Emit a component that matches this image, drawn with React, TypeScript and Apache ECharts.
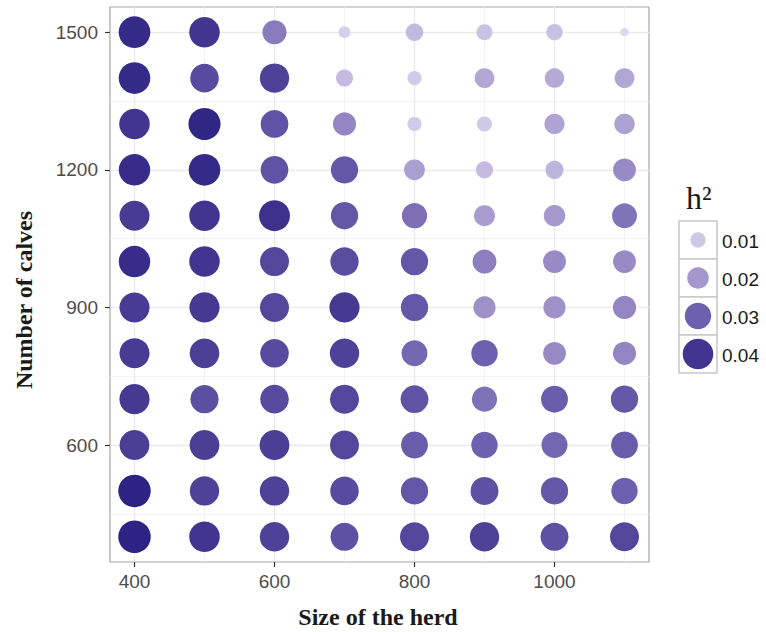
import React, { useEffect, useRef } from "react";
import * as echarts from "echarts";

// ---- data ----
const herdSizes = [400, 500, 600, 700, 800, 900, 1000, 1100];
const calves = [1500, 1400, 1300, 1200, 1100, 1000, 900, 800, 700, 600, 500, 400];
// h2 values, one row per number of calves (top to bottom), one column per herd size
const h2Rows = [
  [0.043, 0.040, 0.025, 0.006, 0.013, 0.011, 0.0115, 0.003],
  [0.043, 0.035, 0.037, 0.0125, 0.0085, 0.0168, 0.0162, 0.0168],
  [0.040, 0.044, 0.033, 0.023, 0.0085, 0.0097, 0.0174, 0.018],
  [0.0424, 0.043, 0.033, 0.032, 0.0186, 0.0125, 0.014, 0.0223],
  [0.0387, 0.040, 0.041, 0.032, 0.0273, 0.019, 0.0198, 0.0265],
  [0.0424, 0.040, 0.036, 0.0345, 0.032, 0.0244, 0.0223, 0.0223],
  [0.0387, 0.039, 0.036, 0.039, 0.032, 0.0212, 0.0212, 0.023],
  [0.0387, 0.0377, 0.035, 0.037, 0.0286, 0.030, 0.0223, 0.023],
  [0.039, 0.034, 0.035, 0.036, 0.033, 0.027, 0.031, 0.032],
  [0.038, 0.038, 0.038, 0.036, 0.031, 0.030, 0.029, 0.031],
  [0.045, 0.037, 0.037, 0.035, 0.032, 0.0335, 0.032, 0.030],
  [0.045, 0.040, 0.037, 0.0335, 0.036, 0.037, 0.0335, 0.036],
];
const xTicks = [400, 600, 800, 1000];
const yTicks = [600, 900, 1200, 1500];
const xMinor = [500, 700, 900, 1100];
const yMinor = [450, 750, 1050, 1350];
const legendValues = [0.01, 0.02, 0.03, 0.04];
const legendLabels = ["0.01", "0.02", "0.03", "0.04"];

// ---- scales ----
const colorStops: [number, number[]][] = [
  [0.003, [0xdc, 0xd8, 0xee]],
  [0.01, [0xcd, 0xc8, 0xe6]],
  [0.02, [0xa3, 0x98, 0xcc]],
  [0.03, [0x6d, 0x60, 0xae]],
  [0.04, [0x41, 0x35, 0x8f]],
  [0.045, [0x2c, 0x23, 0x82]],
];
function rgb(c: number[]) {
  return `rgb(${c.map((x) => Math.round(x)).join(",")})`;
}
function colorFor(v: number): string {
  if (v <= colorStops[0][0]) return rgb(colorStops[0][1]);
  for (let i = 1; i < colorStops.length; i++) {
    const [v1, c1] = colorStops[i];
    if (v <= v1) {
      const [v0, c0] = colorStops[i - 1];
      const t = (v - v0) / (v1 - v0);
      return rgb(c0.map((c, k) => c + (c1[k] - c) * t));
    }
  }
  return rgb(colorStops[colorStops.length - 1][1]);
}
function sizeFor(v: number): number {
  return 153 * Math.sqrt(v);
}

const GRID = { left: 110, right: 117, top: 7, bottom: 70 };

export default function App() {
  const ref = useRef<HTMLDivElement>(null);
  useEffect(() => {
    if (!ref.current) return;
    const chart = echarts.init(ref.current, undefined, { renderer: "svg" });
    const points: number[][] = [];
    calves.forEach((y, r) => {
      herdSizes.forEach((x, c) => {
        points.push([x, y, h2Rows[r][c]]);
      });
    });

    // legend graphics
    const boxX = 679;
    const boxW = 38;
    const boxTop = 221;
    const boxH = 38;
    const legendEls: any[] = [];
    legendEls.push({
      type: "text",
      x: 686,
      y: 182,
      style: {
        text: "h²",
        font: "32px 'Liberation Serif', 'Times New Roman', serif",
        fill: "#1a1a1a",
      },
    });
    legendValues.forEach((v, i) => {
      const top = boxTop + i * boxH;
      legendEls.push({
        type: "rect",
        shape: { x: boxX, y: top, width: boxW, height: boxH },
        style: { fill: "#ffffff", stroke: "#c8c8c8", lineWidth: 1.5 },
      });
      legendEls.push({
        type: "circle",
        shape: { cx: boxX + boxW / 2, cy: top + boxH / 2, r: sizeFor(v) / 2 },
        style: { fill: colorFor(v) },
      });
      legendEls.push({
        type: "text",
        x: boxX + boxW + 5,
        y: top + boxH / 2 + 1,
        style: {
          text: legendLabels[i],
          font: "19px 'Liberation Sans', Arial, sans-serif",
          fill: "#1a1a1a",
          verticalAlign: "middle",
          textAlign: "left",
        },
      });
    });

    const gridLine = (vals: number[], axis: "xAxis" | "yAxis") =>
      vals.map((v) => ({ [axis]: v }));

    const option: any = {
      animation: false,
      backgroundColor: "#ffffff",
      grid: {
        ...GRID,
        show: true,
        borderColor: "#a6a6a6",
        borderWidth: 1.2,
        backgroundColor: "#ffffff",
        containLabel: false,
      },
      xAxis: {
        type: "value",
        min: 365,
        max: 1135,
        axisLine: { show: false, onZero: false },
        axisTick: {
          show: true,
          length: 5,
          lineStyle: { color: "#333333", width: 1.2 },
          customValues: xTicks,
        },
        axisLabel: {
          customValues: xTicks,
          formatter: (v: number) => String(v),
          color: "#4d4d4d",
          fontSize: 19,
          fontFamily: "'Liberation Sans', Arial, sans-serif",
          margin: 10,
        },
        splitLine: { show: false },
      },
      yAxis: {
        type: "value",
        min: 345,
        max: 1555,
        axisLine: { show: false, onZero: false },
        axisTick: {
          show: true,
          length: 5,
          lineStyle: { color: "#333333", width: 1.2 },
          customValues: yTicks,
        },
        axisLabel: {
          customValues: yTicks,
          formatter: (v: number) => String(v),
          color: "#4d4d4d",
          fontSize: 19,
          fontFamily: "'Liberation Sans', Arial, sans-serif",
          margin: 12,
        },
        splitLine: { show: false },
      },
      series: [
        {
          type: "line",
          data: [],
          z: 1,
          silent: true,
          markLine: {
            z: 1,
            silent: true,
            symbol: ["none", "none"],
            label: { show: false },
            emphasis: { disabled: true },
            lineStyle: { color: "#f0f0f0", width: 0.8, type: "solid" },
            data: [...gridLine(xMinor, "xAxis"), ...gridLine(yMinor, "yAxis")],
          },
        },
        {
          type: "line",
          data: [],
          z: 1,
          silent: true,
          markLine: {
            z: 1,
            silent: true,
            symbol: ["none", "none"],
            label: { show: false },
            emphasis: { disabled: true },
            lineStyle: { color: "#ebebeb", width: 1.4, type: "solid" },
            data: [...gridLine(xTicks, "xAxis"), ...gridLine(yTicks, "yAxis")],
          },
        },
        {
          type: "scatter",
          z: 5,
          data: points,
          symbol: "circle",
          symbolSize: (val: number[]) => sizeFor(val[2]),
          itemStyle: {
            color: (p: any) => colorFor(p.value[2]),
            opacity: 1,
          },
          emphasis: { disabled: true },
        },
      ],
      graphic: [
        {
          type: "text",
          x: 378,
          y: 617,
          style: {
            text: "Size of the herd",
            font: "bold 24px 'Liberation Serif', 'Times New Roman', serif",
            fill: "#1a1a1a",
            textAlign: "center",
            verticalAlign: "middle",
          },
        },
        {
          type: "text",
          x: 24,
          y: 300,
          rotation: Math.PI / 2,
          style: {
            text: "Number of calves",
            font: "bold 24px 'Liberation Serif', 'Times New Roman', serif",
            fill: "#1a1a1a",
            textAlign: "center",
            verticalAlign: "middle",
          },
        },
        ...legendEls,
      ],
    };
    chart.setOption(option);
    return () => chart.dispose();
  }, []);
  return (
    <div
      ref={ref}
      style={{ position: "fixed", left: 0, top: 0, width: 766, height: 632, background: "#fff" }}
    />
  );
}
